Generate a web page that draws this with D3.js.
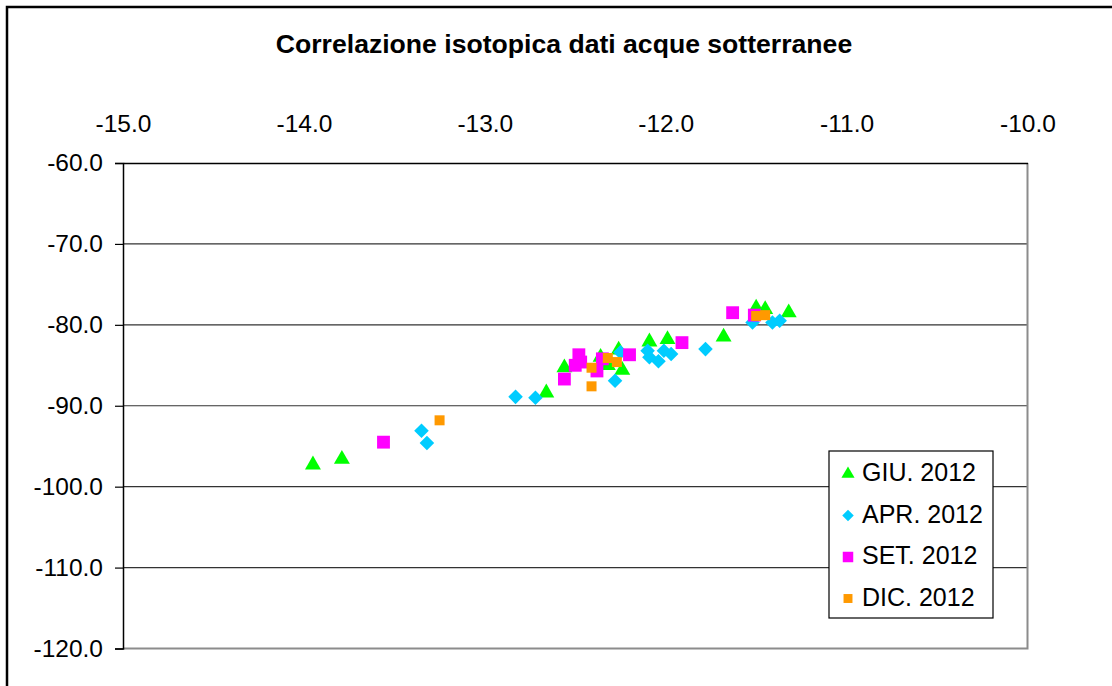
<!DOCTYPE html>
<html>
<head>
<meta charset="utf-8">
<script src="https://cdn.jsdelivr.net/npm/d3@7"></script>
<style>
  html, body { margin: 0; padding: 0; background: #fff; }
  svg { display: block; font-family: "Liberation Sans", Arial, sans-serif; }
</style>
</head>
<body>
<svg id="chart" width="1112" height="686"></svg>
<script>
// δ18O (x) and δ2H (y) per sampling campaign
const giuX = [-13.95, -13.79, -12.66, -12.56, -12.36, -12.32, -12.26, -12.24, -12.09, -11.99, -11.68, -11.50, -11.45, -11.32];
const giuY = [-97.3, -96.6, -88.4, -85.3, -84.0, -85.0, -83.1, -85.6, -82.1, -81.8, -81.5, -77.9, -78.1, -78.5];

const aprX = [-13.35, -13.32, -12.83, -12.72, -12.28, -12.25, -12.10, -12.09, -12.04, -12.01, -11.97, -11.78, -11.52, -11.41, -11.37];
const aprY = [-93.1, -94.6, -88.9, -89.0, -86.9, -83.4, -83.2, -84.0, -84.5, -83.2, -83.6, -83.0, -79.7, -79.7, -79.5];

const setX = [-13.56, -12.56, -12.50, -12.48, -12.47, -12.38, -12.35, -12.20, -11.91, -11.63, -11.51];
const setY = [-94.5, -86.7, -85.0, -83.7, -84.6, -85.7, -84.2, -83.7, -82.2, -78.5, -78.8];

const dicX = [-13.25, -12.41, -12.41, -12.32, -12.27, -11.50, -11.45];
const dicY = [-91.8, -85.3, -87.6, -84.1, -84.6, -78.9, -78.8];

const xTicks = [-15, -14, -13, -12, -11, -10];
const yTicks = [-60, -70, -80, -90, -100, -110, -120];

const seriesNames = ["GIU. 2012", "APR. 2012", "SET. 2012", "DIC. 2012"];

const series = [
  { name: seriesNames[0], xs: giuX, ys: giuY, symbol: d3.symbolTriangle, size: 110, legendSize: 75, color: "#00ff00" },
  { name: seriesNames[1], xs: aprX, ys: aprY, symbol: d3.symbolDiamond2, size: 135, legendSize: 85, color: "#00ccff" },
  { name: seriesNames[2], xs: setX, ys: setY, symbol: d3.symbolSquare, size: 165, legendSize: 110, color: "#ff00ff" },
  { name: seriesNames[3], xs: dicX, ys: dicY, symbol: d3.symbolSquare, size: 100, legendSize: 80, color: "#ff9900" }
];

const svg = d3.select("#chart");

// outer chart frame (left and top edges visible)
svg.append("path")
  .attr("d", "M7,690 L7,7 L1115,7")
  .attr("fill", "none").attr("stroke", "#000").attr("stroke-width", 2.5);

svg.append("text")
  .attr("x", 564).attr("y", 53)
  .attr("text-anchor", "middle")
  .attr("font-size", 26.6).attr("font-weight", "bold")
  .text("Correlazione isotopica dati acque sotterranee");

const plot = { left: 123, top: 163, right: 1027.5, bottom: 648.5 };

const x = d3.scaleLinear().domain([-15, -10]).range([plot.left, plot.right]);
const y = d3.scaleLinear().domain([-60, -120]).range([plot.top, plot.bottom]);

// horizontal gridlines
svg.append("g")
  .selectAll("line")
  .data(yTicks.filter(v => v !== -60 && v !== -120))
  .join("line")
  .attr("x1", plot.left).attr("x2", plot.right)
  .attr("y1", d => y(d)).attr("y2", d => y(d))
  .attr("stroke", "#333").attr("stroke-width", 1.2);

// plot-area border: right and bottom in grey
svg.append("path")
  .attr("d", `M${plot.right},${plot.top} L${plot.right},${plot.bottom} L${plot.left},${plot.bottom}`)
  .attr("fill", "none").attr("stroke", "#8c8c8c").attr("stroke-width", 2);

// top (x) axis
const xAxis = d3.axisTop(x).tickValues(xTicks).tickSize(0).tickPadding(0)
  .tickFormat(d3.format(".1f"));
const gx = svg.append("g").attr("transform", `translate(0,${plot.top})`).call(xAxis);
gx.select(".domain").attr("stroke", "#000").attr("stroke-width", 1.5);
gx.selectAll("text")
  .attr("y", -31)
  .attr("dy", 0)
  .attr("font-size", 24.5).attr("font-family", "Liberation Sans, Arial, sans-serif")
  .attr("fill", "#000")
  .text(d => d3.format(".1f")(d).replace("−", "-"));

// left (y) axis
const yAxis = d3.axisLeft(y).tickValues(yTicks).tickSize(8).tickPadding(12)
  .tickFormat(d => d3.format(".1f")(d).replace("−", "-"));
const gy = svg.append("g").attr("transform", `translate(${plot.left},0)`).call(yAxis);
gy.select(".domain").attr("stroke", "#000").attr("stroke-width", 1.5);
gy.selectAll(".tick line").attr("stroke", "#000").attr("stroke-width", 1.2);
gy.selectAll("text")
  .attr("font-size", 24.5).attr("font-family", "Liberation Sans, Arial, sans-serif")
  .attr("fill", "#000");

// data markers
series.forEach(s => {
  const pts = s.xs.map((v, i) => [v, s.ys[i]]);
  svg.append("g")
    .selectAll("path")
    .data(pts)
    .join("path")
    .attr("transform", d => `translate(${x(d[0])},${y(d[1])})`)
    .attr("d", d3.symbol().type(s.symbol).size(s.size))
    .attr("fill", s.color);
});

// legend
const lg = svg.append("g").attr("transform", "translate(829,451)");
lg.append("rect")
  .attr("width", 164).attr("height", 167)
  .attr("fill", "#fff").attr("stroke", "#000").attr("stroke-width", 1.2);
series.forEach((s, i) => {
  const cy = 21 + i * 41.5;
  lg.append("path")
    .attr("transform", `translate(19,${cy + 2})`)
    .attr("d", d3.symbol().type(s.symbol).size(s.legendSize))
    .attr("fill", s.color);
  lg.append("text")
    .attr("x", 33).attr("y", cy + 9)
    .attr("font-size", 25)
    .text(s.name);
});
</script>
</body>
</html>
